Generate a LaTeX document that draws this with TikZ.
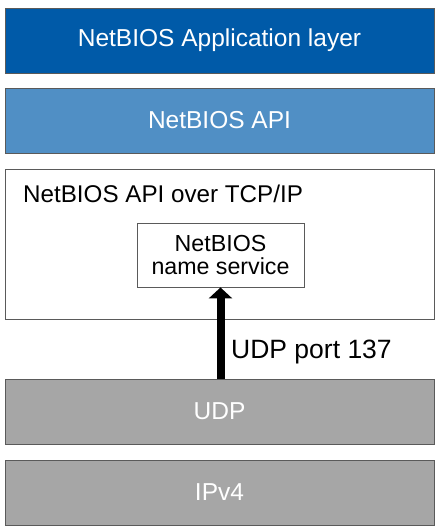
\documentclass[tikz,border=0pt]{standalone}
\usepackage{fontspec}
\setmainfont{Liberation Sans}
\usetikzlibrary{arrows.meta}
\definecolor{appblue}{RGB}{0,90,168}
\definecolor{apiblue}{RGB}{80,143,197}
\definecolor{laygray}{RGB}{166,166,166}
\definecolor{edgegray}{RGB}{90,90,90}
\tikzset{
  layer/.style={draw=edgegray, line width=0.9pt, minimum width=429pt, minimum height=65pt, inner sep=0pt, text=white, font=\fontsize{24.5}{28}\selectfont},
  plainbox/.style={draw=edgegray, line width=0.9pt, fill=white, inner sep=0pt},
  lbl/.style={font=\fontsize{24.2}{28}\selectfont, inner sep=0pt},
  bigarrow/.style={line width=8pt, -{Triangle[width=23pt,length=11pt]}}
}
\begin{document}
\begin{tikzpicture}[x=1pt,y=-1pt]
\useasboundingbox (0,0) rectangle (440,531);
\node[layer, fill=appblue] (app) at (219.5,40.5) {NetBIOS Application layer};
\node[layer, fill=apiblue] (api) at (219.5,120.5) {NetBIOS API};
\node[plainbox, minimum width=429pt, minimum height=150pt] (tcp) at (219.5,244) {};
\node[lbl, anchor=base west] (tcplbl) at (23,202) {NetBIOS API over TCP/IP};
\node[plainbox, minimum width=167pt, minimum height=64pt, align=center, font=\fontsize{23.2}{22.5}\selectfont] (ns) at (220.5,255) {NetBIOS\\name service};
\node[layer, fill=laygray] (udp) at (219.5,411.5) {UDP};
\node[layer, fill=laygray] (ip) at (219.5,492.5) {IPv4};
\draw[bigarrow] (udp.north -| ns.south) -- (ns.south);
\node[lbl, anchor=base west, font=\fontsize{26.5}{30}\selectfont] (port) at (231,358) {UDP port 137};
\end{tikzpicture}
\end{document}
